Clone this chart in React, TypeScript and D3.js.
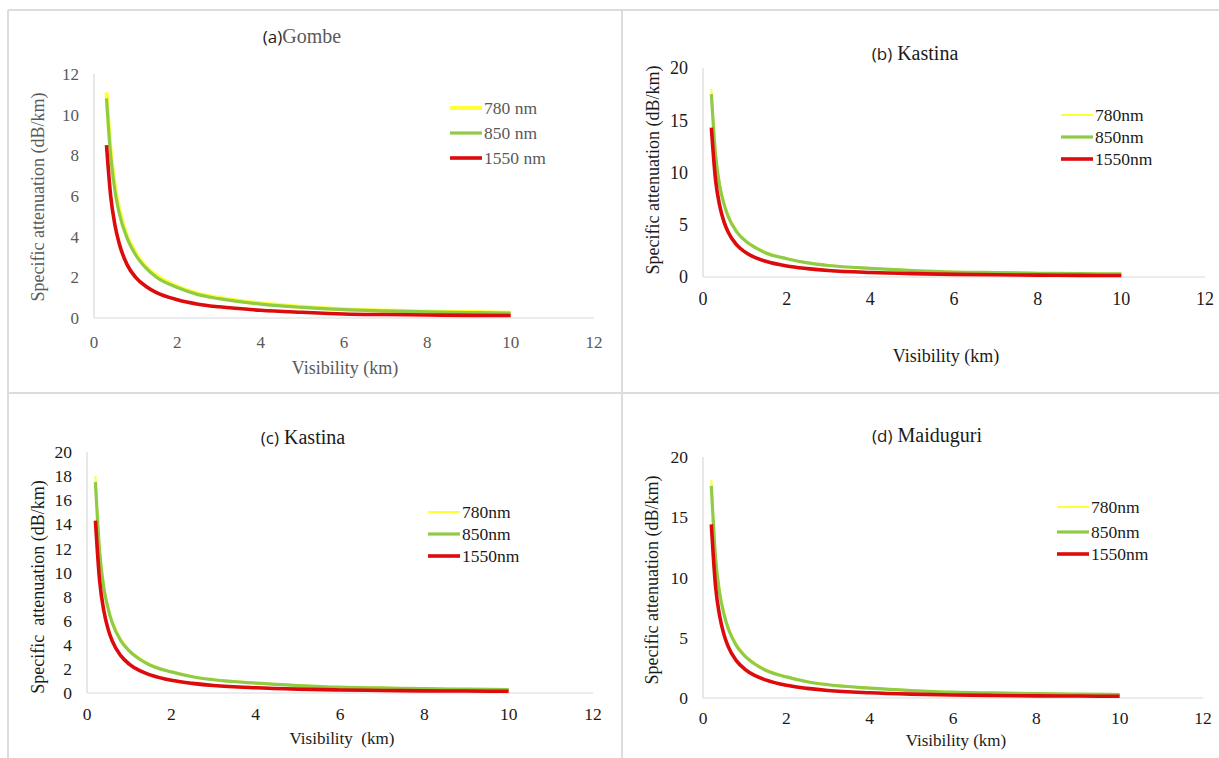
import * as d3 from "d3";

// visibility (km) sampled along the curves
const visA = [0.3, 0.4, 0.5, 0.6, 0.8, 1, 1.25, 1.5, 2, 2.5, 3, 4, 5, 6, 7, 8, 9, 10];
const gombe780 = [11.1, 8.2, 6.5, 5.4, 4.0, 3.2, 2.5, 2.1, 1.55, 1.2, 1.0, 0.72, 0.55, 0.43, 0.37, 0.32, 0.29, 0.26];
const gombe850 = [10.8, 8.0, 6.3, 5.2, 3.9, 3.1, 2.45, 2.0, 1.5, 1.15, 0.95, 0.68, 0.52, 0.41, 0.35, 0.3, 0.27, 0.24];
const gombe1550 = [8.5, 6.0, 4.6, 3.7, 2.6, 2.0, 1.55, 1.25, 0.9, 0.68, 0.55, 0.38, 0.28, 0.2, 0.17, 0.15, 0.13, 0.12];

const visK = [0.2, 0.3, 0.4, 0.5, 0.6, 0.8, 1, 1.25, 1.5, 2, 2.5, 3, 4, 5, 6, 7, 8, 9, 10];
const kastina780 = [18.0, 12.0, 9.0, 7.2, 6.0, 4.5, 3.6, 2.9, 2.4, 1.8, 1.4, 1.15, 0.85, 0.65, 0.5, 0.44, 0.38, 0.34, 0.3];
const kastina850 = [17.5, 11.7, 8.7, 7.0, 5.8, 4.35, 3.5, 2.8, 2.3, 1.75, 1.35, 1.1, 0.82, 0.62, 0.48, 0.42, 0.36, 0.32, 0.29];
const kastina1550 = [14.3, 9.3, 6.8, 5.3, 4.3, 3.1, 2.4, 1.85, 1.5, 1.05, 0.8, 0.62, 0.43, 0.32, 0.25, 0.21, 0.18, 0.16, 0.14];
const maiduguri780 = [18.1, 12.0, 9.0, 7.2, 6.0, 4.5, 3.6, 2.9, 2.4, 1.8, 1.4, 1.15, 0.85, 0.65, 0.5, 0.44, 0.38, 0.34, 0.3];
const maiduguri850 = [17.6, 11.7, 8.7, 7.0, 5.8, 4.35, 3.5, 2.8, 2.3, 1.75, 1.35, 1.1, 0.82, 0.62, 0.48, 0.42, 0.36, 0.32, 0.29];
const maiduguri1550 = [14.4, 9.3, 6.8, 5.3, 4.3, 3.1, 2.4, 1.85, 1.5, 1.05, 0.8, 0.62, 0.43, 0.32, 0.25, 0.21, 0.18, 0.16, 0.14];

const xTicks = [0, 2, 4, 6, 8, 10, 12];
const yTicksA = [0, 2, 4, 6, 8, 10, 12];
const yTicks5 = [0, 5, 10, 15, 20];
const yTicks2 = [0, 2, 4, 6, 8, 10, 12, 14, 16, 18, 20];
const wavelengths = ["780", "850", "1550"];

const COLORS = ["#ffff33", "#8fcb45", "#dd0b0b"];
const SERIF = "\"Liberation Serif\", \"DejaVu Serif\", serif";
const SANS = "\"Open Sans\", \"Liberation Sans\", sans-serif";

const panels = [
  {
    key: "a", tag: "(a)", place: "Gombe", vis: visA, series: [gombe780, gombe850, gombe1550],
    yMax: 12, yTicks: yTicksA, sep: " nm", xLabel: "Visibility (km)", yLabel: "Specific attenuation (dB/km)",
    x0: 94, x1: 594, yb: 318, yt: 74, title: [302, 36], xl: [345, 368], yl: [38, 197], tickGap: 24,
    legX: 450, legY: [108, 133, 158], ink: "#595959", placeInk: "#595959", tickSize: 17, labelSize: 18, yellowW: 4,
  },
  {
    key: "b", tag: "(b)", place: " Kastina", vis: visK, series: [kastina780, kastina850, kastina1550],
    yMax: 20, yTicks: yTicks5, sep: "nm", xLabel: "Visibility (km)", yLabel: "Specific attenuation (dB/km)",
    x0: 703, x1: 1205, yb: 277, yt: 68, title: [915, 53], xl: [946, 356], yl: [653, 170], tickGap: 22,
    legX: 1061, legY: [115, 137, 159], ink: "#1a1a1a", placeInk: "#1a1a1a", tickSize: 18, labelSize: 18, yellowW: 2,
  },
  {
    key: "c", tag: "(c)", place: " Kastina", vis: visK, series: [kastina780, kastina850, kastina1550],
    yMax: 20, yTicks: yTicks2, sep: "nm", xLabel: "Visibility  (km)", yLabel: "Specific  attenuation (dB/km)",
    x0: 87, x1: 593, yb: 693, yt: 452, title: [303, 437], xl: [342, 738], yl: [38, 587], tickGap: 21,
    legX: 428, legY: [512, 534, 556], ink: "#1a1a1a", placeInk: "#1a1a1a", tickSize: 17.5, labelSize: 17, yellowW: 2,
  },
  {
    key: "d", tag: "(d)", place: " Maiduguri", vis: visK, series: [maiduguri780, maiduguri850, maiduguri1550],
    yMax: 20, yTicks: yTicks5, sep: "nm", xLabel: "Visibility (km)", yLabel: "Specific attenuation (dB/km)",
    x0: 703, x1: 1203, yb: 698, yt: 457, title: [927, 435], xl: [956, 740], yl: [652, 580], tickGap: 20,
    legX: 1057, legY: [507, 532, 554], ink: "#1a1a1a", placeInk: "#1a1a1a", tickSize: 17.5, labelSize: 17, yellowW: 2,
  },
];

const serif = (size: number, fill: string) => ({ fontFamily: SERIF, fontSize: size, fill, whiteSpace: "pre" as const });

const Panel = ({ p }: { p: any }) => {
  const x = d3.scaleLinear().domain([0, 12]).range([p.x0, p.x1]);
  const y = d3.scaleLinear().domain([0, p.yMax]).range([p.yb, p.yt]);
  const line = d3
    .line<number>()
    .x((_, i) => x(p.vis[i]))
    .y((d) => y(d))
    .curve(d3.curveMonotoneX);
  const widths = [p.yellowW, 3.2, 3.6];

  return (
    <g>
      {/* axes */}
      <line x1={x(0)} x2={x(12)} y1={y(0)} y2={y(0)} stroke="#d9d9d9" strokeWidth={1.2} />
      <line x1={x(0)} x2={x(0)} y1={y(0)} y2={y(p.yMax)} stroke="#d9d9d9" strokeWidth={1.2} />
      {p.yTicks.map((t: number) => (
        <text key={"y" + t} x={x(0) - 15} y={y(t)} dy="0.35em" textAnchor="end" style={serif(p.tickSize, p.ink)}>
          {t}
        </text>
      ))}
      {xTicks.map((t) => (
        <text key={"x" + t} x={x(t)} y={y(0) + p.tickGap} dy="0.35em" textAnchor="middle" style={serif(p.tickSize, p.ink)}>
          {t}
        </text>
      ))}
      {/* curves */}
      {p.series.map((s: number[], i: number) => (
        <path key={i} d={line(s) || ""} fill="none" stroke={COLORS[i]} strokeWidth={widths[i]} />
      ))}
      {/* legend */}
      {wavelengths.map((w, i) => (
        <g key={w}>
          <line x1={p.legX} x2={p.legX + 32} y1={p.legY[i]} y2={p.legY[i]} stroke={COLORS[i]}
            strokeWidth={i === 0 ? p.yellowW : widths[i]} />
          <text x={p.legX + 34} y={p.legY[i]} dy="0.35em" style={serif(17.5, p.ink)}>
            {w + p.sep}
          </text>
        </g>
      ))}
      {/* titles */}
      <text x={p.title[0]} y={p.title[1]} dy="0.35em" textAnchor="middle" style={{ fontSize: 20 }}>
        <tspan style={{ fontFamily: SANS, fill: "#1a1a1a", fontSize: 17 }}>{p.tag}</tspan>
        <tspan style={serif(20, p.placeInk)}>{p.place}</tspan>
      </text>
      <text x={p.xl[0]} y={p.xl[1]} dy="0.35em" textAnchor="middle" style={serif(p.labelSize, p.ink)}>
        {p.xLabel}
      </text>
      <text transform={`translate(${p.yl[0]},${p.yl[1]}) rotate(-90)`} dy="0.35em" textAnchor="middle"
        style={serif(18, p.ink)}>
        {p.yLabel}
      </text>
    </g>
  );
};

export default function App() {
  return (
    <div style={{ position: "absolute", left: 0, top: 0 }}>
      <svg width={1219} height={758} style={{ display: "block", background: "#fff" }}>
        {/* panel frames */}
        <line x1={8} x2={1219} y1={10} y2={10} stroke="#dcdcdc" strokeWidth={2} />
        <line x1={8} x2={8} y1={10} y2={758} stroke="#dcdcdc" strokeWidth={2} />
        <line x1={622} x2={622} y1={10} y2={758} stroke="#dcdcdc" strokeWidth={2} />
        <line x1={8} x2={1219} y1={393} y2={393} stroke="#dcdcdc" strokeWidth={2} />
        {panels.map((p) => (
          <Panel key={p.key} p={p} />
        ))}
      </svg>
    </div>
  );
}
